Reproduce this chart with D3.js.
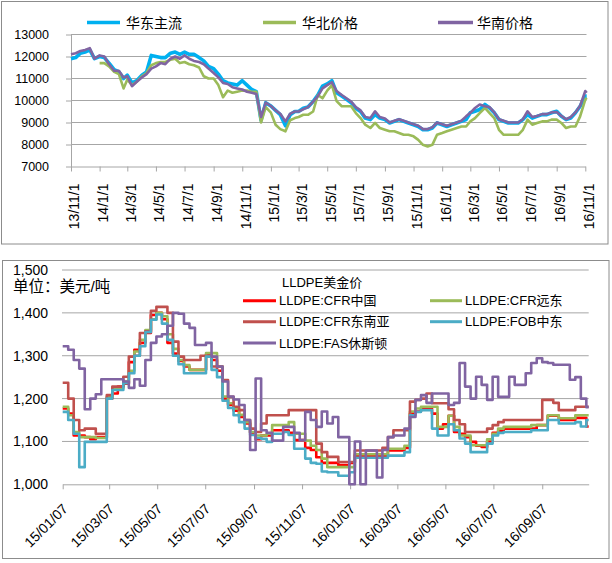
<!DOCTYPE html>
<html><head><meta charset="utf-8">
<script src="https://cdn.jsdelivr.net/npm/d3@7"></script>
<style>
html,body{margin:0;padding:0;background:#fff;}
svg{display:block;}
text{font-family:"Liberation Sans","Noto Sans CJK SC",sans-serif;fill:#000;}
.cjk{font-family:"Noto Sans CJK SC","Liberation Sans",sans-serif;}
</style></head><body>
<svg id="chart" width="612" height="563"></svg>
<script>
// ================= TOP CHART DATA (RMB/ton) =================
const topDates = [
"2013-11-01","2013-11-11","2013-11-21","2013-12-01","2013-12-11","2013-12-21",
"2014-01-01","2014-01-11","2014-01-21","2014-02-01","2014-02-11","2014-02-21","2014-03-01","2014-03-11","2014-03-21",
"2014-04-01","2014-04-11","2014-04-21","2014-05-01","2014-05-11","2014-05-21","2014-06-01","2014-06-11","2014-06-21",
"2014-07-01","2014-07-11","2014-07-21","2014-08-01","2014-08-11","2014-08-21","2014-09-01","2014-09-11","2014-09-21",
"2014-10-01","2014-10-11","2014-10-21","2014-11-01","2014-11-11","2014-11-21","2014-12-01","2014-12-11","2014-12-21",
"2015-01-01","2015-01-11","2015-01-21","2015-02-01","2015-02-11","2015-02-21","2015-03-01","2015-03-11","2015-03-21",
"2015-04-01","2015-04-11","2015-04-21","2015-05-01","2015-05-11","2015-05-21","2015-06-01","2015-06-11","2015-06-21",
"2015-07-01","2015-07-11","2015-07-21","2015-08-01","2015-08-11","2015-08-21","2015-09-01","2015-09-11","2015-09-21",
"2015-10-01","2015-10-11","2015-10-21","2015-11-01","2015-11-11","2015-11-21","2015-12-01","2015-12-11","2015-12-21",
"2016-01-01","2016-01-11","2016-01-21","2016-02-01","2016-02-11","2016-02-21","2016-03-01","2016-03-11","2016-03-21",
"2016-04-01","2016-04-11","2016-04-21","2016-05-01","2016-05-11","2016-05-21","2016-06-01","2016-06-11","2016-06-21",
"2016-07-01","2016-07-11","2016-07-21","2016-08-01","2016-08-11","2016-08-21","2016-09-01","2016-09-11","2016-09-21",
"2016-10-01","2016-10-11","2016-10-21","2016-11-01","2016-11-04"];

const eastChina = [
11900,11950,12150,12200,12300,11900,
12000,11950,11700, 11400,11300,11000, 11150,10800,10900, 11150,11300,12050, 12000,11950,11950, 12150,12200,12100,
12200,12100,12100, 11950,11800,11550, 11450,11200,10900, 10800,10750,10700, 10900,10700,10500, 10400,9100,9900,
9750,9550,9350, 8850,9350,9500, 9500,9650,9700, 9950,10250,10650, 10750,10900,10350, 10200,10050,9900,
9650,9500,9200, 9130,9360,9200, 9130,8980,9050, 9130,9050,8980, 8900,8820,8670, 8670,8750,8980,
8900,8820,8900, 8980,9050,9130, 9440,9510,9590, 9820,9660,9440, 9130,9050,8980, 8980,8980,9130,
9360,9200,9280, 9360,9360,9440, 9510,9280,9130, 9200,9440,9740, 10200,10200];

const northChina = [
null,null,null,null,null,null,
11700,11700,11550, 11300,11200,10550, 10950,10700,10850, 11100,11250,11600, 11700,11750,11750, 11850,11900,11700,
11750,11650,11600, 11500,11100,11000, 11000,10700,10150, 10450,10350,10400, 10450,10450,10400, 10400,9000,9700,
9450,8900,8700, 8600,9100,9200, 9250,9350,9350, 9500,10250,10100, 10450,10700,9970, 9740,9740,9740,
9430,9200,8900, 8750,8980,8750, 8670,8600,8600, 8520,8440,8440, 8370,8210,7985, 7910,7985,8440,
8520,8600,8670, 8750,8820,8820, 9050,9200,9430, 9660,9430,9200, 8670,8440,8440, 8440,8440,8670,
9130,8900,8980, 9050,9050,9130, 9130,8980,8750, 8820,8820,9280, 10045,10120];

const southChina = [
12100,12150,12250,12300,12380,11900,
12050,12000,11650, 11350,11350,11050, 11100,10650,10850, 11050,11200,11450, 11550,11700,11650, 11900,12000,11900,
12050,11900,11800, 11750,11650,11450, 11250,11050,10800, 10750,10600,10550, 10500,10400,10350, 10300,9250,9900,
9750,9550,9400, 9050,9400,9500, 9500,9600,9700, 9950,10200,10550, 10700,10830,10430, 10250,10100,9950,
9700,9550,9250, 9200,9510,9250, 9180,9000,9080, 9150,9080,9000, 8920,8850,8700, 8700,8780,9000,
8920,8850,8920, 9000,9080,9280, 9440,9660,9820, 9740,9700,9460, 9150,9080,9000, 9000,9000,9150,
9510,9250,9300, 9380,9380,9460, 9480,9300,9150, 9250,9460,9760, 10430,10350];

const topNames = ["华东主流","华北价格","华南价格"];
const topColors = ["#00B0F0","#9BBB59","#8064A2"];
const topYTicks = [7000,8000,9000,10000,11000,12000,13000];
const topXTicks = ["2013-11-01","2014-01-01","2014-03-01","2014-05-01","2014-07-01","2014-09-01","2014-11-01",
"2015-01-01","2015-03-01","2015-05-01","2015-07-01","2015-09-01","2015-11-01","2016-01-01","2016-03-01",
"2016-05-01","2016-07-01","2016-09-01","2016-11-01"];

// ================= BOTTOM CHART DATA (USD/ton) =================
const botDates = [
"2015-01-07","2015-01-14","2015-01-21","2015-01-28","2015-02-04","2015-02-11","2015-02-18","2015-02-25",
"2015-03-04","2015-03-11","2015-03-18","2015-03-25","2015-04-01","2015-04-08","2015-04-15","2015-04-22","2015-04-29",
"2015-05-06","2015-05-13","2015-05-20","2015-05-27","2015-06-03","2015-06-10","2015-06-17","2015-06-24",
"2015-07-01","2015-07-08","2015-07-15","2015-07-22","2015-07-29","2015-08-05","2015-08-12","2015-08-19","2015-08-26",
"2015-09-02","2015-09-09","2015-09-16","2015-09-23","2015-09-30","2015-10-07","2015-10-14","2015-10-21","2015-10-28",
"2015-11-04","2015-11-11","2015-11-18","2015-11-25","2015-12-02","2015-12-09","2015-12-16","2015-12-23","2015-12-30",
"2016-01-06","2016-01-13","2016-01-20","2016-01-27","2016-02-03","2016-02-10","2016-02-17","2016-02-24",
"2016-03-02","2016-03-09","2016-03-16","2016-03-23","2016-03-30","2016-04-06","2016-04-13","2016-04-20","2016-04-27",
"2016-05-04","2016-05-11","2016-05-18","2016-05-25","2016-06-01","2016-06-08","2016-06-15","2016-06-22","2016-06-29",
"2016-07-06","2016-07-13","2016-07-20","2016-07-27","2016-08-03","2016-08-10","2016-08-17","2016-08-24","2016-08-31",
"2016-09-07","2016-09-14","2016-09-21","2016-09-28","2016-10-05","2016-10-12","2016-10-19","2016-10-26","2016-11-02","2016-11-05"];

const cfrChina = [
1177,1165,1114,1114,1110,1105,1110,1110,1200,1212,
1228,1235,1285,1314,1330,1353,1395,1400,1385,1330,
1305,1288,1275,1267,1267,1267,1302,1290,1265,1200,
1185,1172,1157,1142,1120,1105,1114,1114,1126,1126,
1126,1120,1103,1103,1085,1080,1063,1050,1050,1050,
1045,1045,1050,1067,1067,1067,1067,1067,1067,1079,
1079,1079,1085,1165,1170,1177,1177,1165,1130,1140,
1160,1122,1118,1110,1099,1090,1087,1100,1120,1125,
1130,1130,1130,1130,1130,1130,1138,1138,1160,1160,
1150,1150,1150,1155,1155,1135,1135];

const cfrFarEast = [
1181,1161,1122,1110,1110,1110,1108,1108,1204,1222,
1224,1240,1265,1310,1337,1360,1385,1400,1392,1350,
1316,1290,1278,1267,1267,1267,1306,1306,1275,1205,
1189,1177,1162,1145,1122,1114,1114,1118,1138,1138,
1138,1145,1118,1118,1102,1090,1080,1060,1040,1040,
1040,1040,1040,1070,1070,1070,1070,1070,1070,1083,
1083,1083,1090,1170,1177,1181,1181,1181,1134,1134,
1160,1134,1114,1114,1091,1091,1091,1105,1118,1130,
1134,1134,1134,1134,1134,1138,1138,1138,1161,1161,
1154,1154,1154,1161,1161,1161,1161];

const cfrSEAsia = [
1237,1200,1150,1126,1130,1130,1118,1118,1208,1228,
1228,1251,1298,1300,1353,1357,1405,1414,1414,1400,
1333,1298,1290,1290,1290,1300,1300,1275,1275,1243,
1204,1181,1173,1150,1130,1122,1142,1161,1161,1161,
1161,1173,1173,1173,1173,1173,1095,1075,1064,1064,
1052,1052,1052,1079,1079,1079,1079,1079,1085,1110,
1126,1126,1126,1193,1197,1200,1212,1189,1189,1189,
1175,1150,1140,1122,1122,1122,1122,1130,1138,1145,
1150,1150,1150,1150,1150,1150,1150,1197,1197,1190,
1173,1173,1173,1181,1181,1181,1181];

const fobMidEast = [
1169,1150,1118,1040,1099,1099,1099,1099,1200,1220,
1220,1236,1259,1300,1322,1355,1384,1396,1375,1337,
1300,1280,1259,1259,1259,1259,1298,1267,1250,1195,
1178,1161,1145,1130,1115,1108,1106,1099,1118,1118,
1122,1115,1083,1083,1060,1050,1048,1030,1028,1028,
1020,1020,1028,1062,1062,1062,1062,1062,1062,1067,
1067,1067,1075,1161,1169,1173,1173,1130,1114,1114,
1140,1126,1107,1095,1075,1075,1075,1095,1114,1120,
1122,1122,1122,1122,1122,1126,1126,1126,1150,1150,
1142,1142,1142,1145,1135,1150,1150];

const fasHouston = [
1322,1314,1290,1270,1175,1200,1210,1245,1245,1245,
1245,1240,1225,1245,1230,1290,1330,1345,1350,1370,
1400,1398,1375,1365,1325,1325,1330,1298,1275,1240,
1205,1198,1185,1150,1080,1247,1126,1120,1102,1102,
1134,1134,1120,1103,1169,1150,1134,1170,1142,1157,
1110,1110,1000,1100,1000,1079,1079,1016,1080,1110,
1114,1114,1130,1157,1197,1208,1190,1212,1212,1212,
1185,1190,1283,1228,1200,1251,1232,1197,1251,1204,
1204,1251,1232,1232,1259,1283,1294,1285,1283,1279,
1279,1279,1244,1250,1200,1180,1180];

const botNames = ["LLDPE:CFR中国","LLDPE:CFR远东","LLDPE:CFR东南亚","LLDPE:FOB中东","LLDPE:FAS休斯顿"];
const botColors = ["#FF0000","#9BBB59","#C0504D","#4BACC6","#8064A2"];
const botYTicks = [1000,1100,1200,1300,1400,1500];
const botXTicks = ["2015-01-07","2015-03-07","2015-05-07","2015-07-07","2015-09-07","2015-11-07",
"2016-01-07","2016-03-07","2016-05-07","2016-07-07","2016-09-07"];
const botTitle = "LLDPE美金价";
const botUnit = "单位：美元/吨";

// ================= DRAW =================
const parse = d3.timeParse("%Y-%m-%d");
const svg = d3.select("#chart");
svg.append("rect").attr("width",612).attr("height",563).attr("fill","#fff");

// panel frames
svg.append("rect").attr("x",1.5).attr("y",1.5).attr("width",606.5).attr("height",242.5)
  .attr("fill","none").attr("stroke","#8c8c8c");
svg.append("rect").attr("x",2.5).attr("y",260.5).attr("width",606.5).attr("height",298)
  .attr("fill","none").attr("stroke","#8c8c8c");

// ---------- top ----------
const xT = d3.scaleTime().domain([parse("2013-11-01"), parse("2016-11-01")]).range([71, 585.3]);
const yT = d3.scaleLinear().domain([7000,13000]).range([166.5,34.5]);
const gT = svg.append("g");

gT.selectAll("line.grid").data(topYTicks.filter(v => v > 7000)).join("line")
  .attr("class","grid").attr("x1",71).attr("x2",586.5)
  .attr("y1",d => yT(d)).attr("y2",d => yT(d)).attr("stroke","#a6a6a6");

gT.append("g").attr("transform","translate(71,0)")
  .call(d3.axisLeft(yT).tickValues(topYTicks).tickSize(5).tickPadding(17).tickSizeOuter(0).tickFormat(d3.format("d")))
  .call(g => {
    g.select(".domain").attr("stroke","#a6a6a6");
    g.selectAll(".tick line").attr("stroke","#a6a6a6");
    g.selectAll(".tick text").attr("font-size",12.5).style("font-family",'"Liberation Sans",sans-serif');
  });

gT.append("g").attr("transform","translate(0,166.5)")
  .call(d3.axisBottom(xT).tickValues(topXTicks.map(parse)).tickFormat(d3.timeFormat("%y/%-m/%-d")).tickSize(5).tickSizeOuter(0))
  .call(g => {
    g.select(".domain").attr("stroke","#a6a6a6");
    g.selectAll(".tick line").attr("stroke","#a6a6a6");
    g.selectAll(".tick text").attr("font-size",14).style("font-family",'"Liberation Sans",sans-serif')
      .attr("text-anchor","end").attr("transform","rotate(-90)")
      .attr("x",-17).attr("y",3).attr("dy","0.35em");
  });

const topSeries = [eastChina, northChina, southChina];
const topWidths = [3.6, 2.6, 2.6];
topSeries.forEach((vals, si) => {
  const pts = topDates.map((d,i) => ({x: parse(d), y: vals[i]}));
  const ln = d3.line().defined(p => p.y != null).x(p => xT(p.x)).y(p => yT(p.y));
  gT.append("path").datum(pts).attr("d", ln).attr("fill","none")
    .attr("stroke", topColors[si]).attr("stroke-width", topWidths[si]).attr("stroke-linejoin","round");
});

// top legend
const topLeg = [{x1:87,x2:120,tx:126},{x1:263,x2:296,tx:302},{x1:438,x2:473,tx:477}];
topLeg.forEach((p,i) => {
  gT.append("line").attr("x1",p.x1).attr("x2",p.x2).attr("y1",22.5).attr("y2",22.5)
    .attr("stroke",topColors[i]).attr("stroke-width",3.5);
  gT.append("text").attr("class","cjk").attr("x",p.tx).attr("y",22.5).attr("dy","0.36em")
    .attr("font-size",14).text(topNames[i]);
});

// ---------- bottom ----------
const xB = d3.scaleTime().domain([parse("2015-01-07"), parse("2016-11-05")]).range([62.7, 588.7]);
const yB = d3.scaleLinear().domain([1000,1500]).range([484.3,270]);
const gB = svg.append("g");

gB.selectAll("line.grid").data(botYTicks.filter(v => v > 1000)).join("line")
  .attr("class","grid").attr("x1",62).attr("x2",588.7)
  .attr("y1",d => yB(d)).attr("y2",d => yB(d)).attr("stroke","#a6a6a6");

gB.append("g").attr("transform","translate(62,0)")
  .call(d3.axisLeft(yB).tickValues(botYTicks).tickSize(0).tickPadding(14).tickFormat(d3.format(",")))
  .call(g => {
    g.select(".domain").remove();
    g.selectAll(".tick text").attr("font-size",14).style("font-family",'"Liberation Sans",sans-serif');
  });

gB.append("g").attr("transform","translate(0,484.3)")
  .call(d3.axisBottom(xB).tickValues(botXTicks.map(parse)).tickFormat(d3.timeFormat("%y/%m/%d")).tickSize(5).tickSizeOuter(0))
  .call(g => {
    g.select(".domain").attr("stroke","#a6a6a6");
    g.selectAll(".tick line").attr("stroke","#a6a6a6");
    g.selectAll(".tick text").attr("font-size",14).style("font-family",'"Liberation Sans",sans-serif')
      .attr("text-anchor","end").attr("y",0).attr("dy","0.35em")
      .attr("transform","translate(2,22) rotate(-45)");
  });

const botSeries = [cfrChina, cfrFarEast, cfrSEAsia, fobMidEast, fasHouston];
botSeries.forEach((vals, si) => {
  const pts = botDates.map((d,i) => ({x: parse(d), y: vals[i]}));
  const ln = d3.line().curve(d3.curveStepAfter).x(p => xB(p.x)).y(p => yB(p.y));
  gB.append("path").datum(pts).attr("d", ln).attr("fill","none")
    .attr("stroke", botColors[si]).attr("stroke-width", 2.6).attr("stroke-linejoin","round");
});

// unit label and legend
gB.append("text").attr("x",13).attr("y",292)
  .style("font-family",'"Liberation Sans","Noto Sans CJK SC",sans-serif')
  .attr("font-size",15.5).text(botUnit);
gB.append("text").attr("x",282).attr("y",282.5).attr("dy","0.36em")
  .attr("font-size",13).text(botTitle);
const botLeg = [{x1:243,x2:276,tx:279,y:300.7},{x1:430,x2:462,tx:465,y:300.7},
                {x1:243,x2:276,tx:279,y:321.7},{x1:430,x2:462,tx:465,y:321.7},
                {x1:243,x2:276,tx:279,y:343}];
botLeg.forEach((p,i) => {
  gB.append("line").attr("x1",p.x1).attr("x2",p.x2).attr("y1",p.y).attr("y2",p.y)
    .attr("stroke",botColors[i]).attr("stroke-width",3);
  gB.append("text").attr("x",p.tx).attr("y",p.y).attr("dy","0.36em")
    .attr("font-size",13).text(botNames[i]);
});
</script>
</body></html>
